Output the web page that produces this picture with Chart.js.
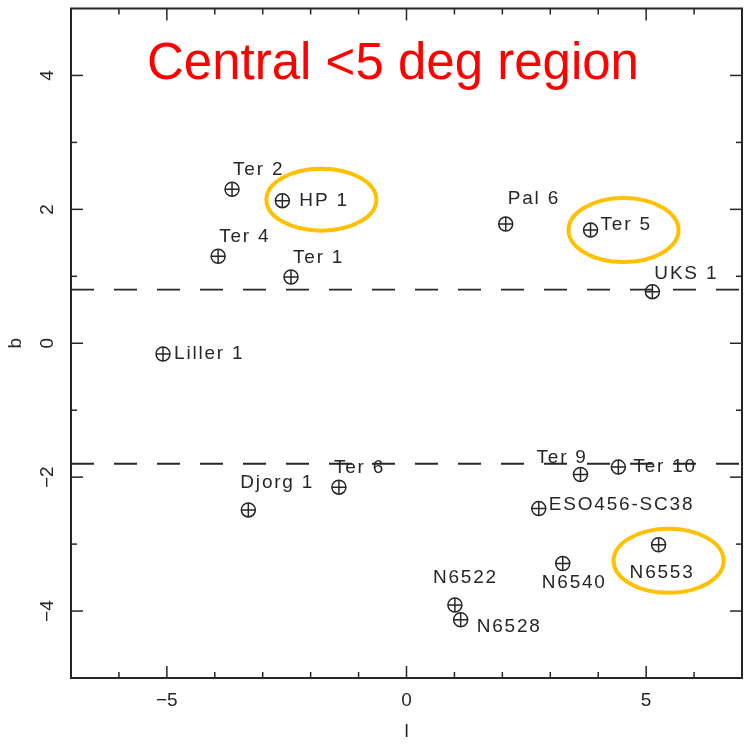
<!DOCTYPE html>
<html>
<head>
<meta charset="utf-8">
<script src="https://cdn.jsdelivr.net/npm/chart.js@4.4.1/dist/chart.umd.min.js"></script>
<style>
  html, body { margin: 0; padding: 0; background: #fff; }
</style>
</head>
<body>
<canvas id="chart" width="751" height="745"></canvas>
<script>
// globular clusters, galactic l and b (deg)
const names = ["Ter 2", "HP 1", "Ter 4", "Ter 1", "Pal 6", "Ter 5", "UKS 1", "Liller 1", "Ter 6",
  "Djorg 1", "Ter 9", "Ter 10", "ESO456-SC38", "N6540", "N6553", "N6522", "N6528"];
const glon = [-3.64, -2.59, -3.93, -2.41, 2.07, 3.84, 5.13, -5.08, -1.41,
  -3.30, 3.63, 4.42, 2.76, 3.26, 5.26, 1.01, 1.13];
const glat = [2.30, 2.13, 1.30, 0.99, 1.78, 1.69, 0.77, -0.16, -2.15,
  -2.49, -1.96, -1.85, -2.47, -3.29, -3.01, -3.91, -4.13];

// dashed limits in b
const cutLines = [0.8, -1.8];

const xTickLabels = [-5, 0, 5];
const yTickLabels = [-4, -2, 0, 2, 4];

const highlighted = ["HP 1", "Ter 5", "N6553"];

// label placement relative to marker (px)
const labelOffsets = [[1, -19], [17, 0], [1, -19], [2, -19], [2, -25], [10, -5], [2, -18], [11, 0], [-5, -19],
  [-8, -27], [-44, -17], [15, 0], [10, -4], [-21, 19], [-29, 28], [-22, -27], [16, 7]];
// ellipse centre offset and radii (px)
const ringShapes = [[39, -1, 55, 31], [33, 0, 55, 32], [10, 16, 55, 32]];

const ink = "#262626";
const gold = "#FFC000";
const points = glon.map((x, i) => ({ x: x, y: glat[i] }));

const overlay = {
  id: "overlay",
  afterDatasetsDraw(chart) {
    const ctx = chart.ctx;
    const { left, right, top, bottom } = chart.chartArea;
    const sx = chart.scales.x, sy = chart.scales.y;
    ctx.save();

    // frame + inward ticks
    ctx.strokeStyle = ink;
    ctx.lineWidth = 2;
    ctx.strokeRect(left, top, right - left, bottom - top);
    ctx.lineWidth = 1.5;
    const seg = (x1, y1, x2, y2) => { ctx.beginPath(); ctx.moveTo(x1, y1); ctx.lineTo(x2, y2); ctx.stroke(); };
    for (let v = -6; v <= 6; v++) {
      const len = xTickLabels.includes(v) ? 12 : 6;
      const x = sx.getPixelForValue(v);
      seg(x, bottom, x, bottom - len);
      seg(x, top, x, top + len);
    }
    for (let v = -4; v <= 4; v++) {
      const len = yTickLabels.includes(v) ? 12 : 6;
      const y = sy.getPixelForValue(v);
      seg(left, y, left + len, y);
      seg(right, y, right - len, y);
    }

    // cluster names
    ctx.fillStyle = ink;
    ctx.font = "19px 'Liberation Sans', Arial, sans-serif";
    ctx.letterSpacing = "1.8px";
    ctx.textAlign = "left";
    ctx.textBaseline = "middle";
    names.forEach((n, i) => {
      const x = sx.getPixelForValue(glon[i]);
      const y = sy.getPixelForValue(glat[i]);
      ctx.fillText(n, x + labelOffsets[i][0], y + labelOffsets[i][1]);
    });
    ctx.letterSpacing = "0px";

    // highlight rings
    ctx.strokeStyle = gold;
    ctx.lineWidth = 4;
    highlighted.forEach((n, k) => {
      const i = names.indexOf(n);
      const x = sx.getPixelForValue(glon[i]);
      const y = sy.getPixelForValue(glat[i]);
      const r = ringShapes[k];
      ctx.beginPath();
      ctx.ellipse(x + r[0], y + r[1], r[2], r[3], 0, 0, Math.PI * 2);
      ctx.stroke();
    });

    // headline
    ctx.fillStyle = "#FF0000";
    ctx.font = "51px 'Liberation Sans', Arial, sans-serif";
    ctx.textAlign = "center";
    ctx.textBaseline = "alphabetic";
    ctx.fillText("Central <5 deg region", 393, 79);
    ctx.restore();
  }
};

const minus = v => String(v).replace("-", "\u2212");

new Chart(document.getElementById("chart"), {
  type: "scatter",
  data: {
    datasets: [
      ...cutLines.map(b => ({
        type: "line",
        data: [{ x: -7, y: b }, { x: 7, y: b }],
        borderColor: ink,
        borderWidth: 1.8,
        borderDash: [23, 20],
        pointRadius: 0
      })),
      {
        data: points,
        pointStyle: "circle",
        pointRadius: 7,
        borderColor: ink,
        borderWidth: 1.5,
        backgroundColor: "rgba(255,255,255,0)"
      },
      {
        data: points,
        pointStyle: "cross",
        pointRadius: 7,
        borderColor: ink,
        borderWidth: 1.5
      }
    ]
  },
  options: {
    responsive: false,
    animation: false,
    devicePixelRatio: 1,
    layout: { padding: { top: 5, right: 9, left: 0, bottom: 0 } },
    plugins: { legend: { display: false }, tooltip: { enabled: false } },
    scales: {
      x: {
        type: "linear",
        min: -7,
        max: 7,
        grid: { display: false, drawTicks: false },
        border: { display: false },
        afterBuildTicks: s => { s.ticks = xTickLabels.map(v => ({ value: v })); },
        afterFit: s => { s.height = 67; s.paddingLeft = 0; s.paddingRight = 0; },
        ticks: { color: ink, font: { size: 19, family: "'Liberation Sans', Arial" }, padding: 11, maxRotation: 0, callback: minus },
        title: { display: true, text: "l", color: ink, font: { size: 19, family: "'Liberation Sans', Arial" }, padding: { top: 0, bottom: 2 } }
      },
      y: {
        type: "linear",
        min: -5,
        max: 5,
        grid: { display: false, drawTicks: false },
        border: { display: false },
        afterBuildTicks: s => { s.ticks = yTickLabels.map(v => ({ value: v })); },
        afterFit: s => { s.width = 71; s.paddingTop = 0; s.paddingBottom = 0; },
        ticks: { color: ink, font: { size: 19, family: "'Liberation Sans', Arial" }, padding: 12, minRotation: 90, maxRotation: 90, crossAlign: "center", callback: minus },
        title: { display: true, text: "b", color: ink, font: { size: 19, family: "'Liberation Sans', Arial" }, padding: { top: 4, bottom: 0 } }
      }
    }
  },
  plugins: [overlay]
});
</script>
</body>
</html>
